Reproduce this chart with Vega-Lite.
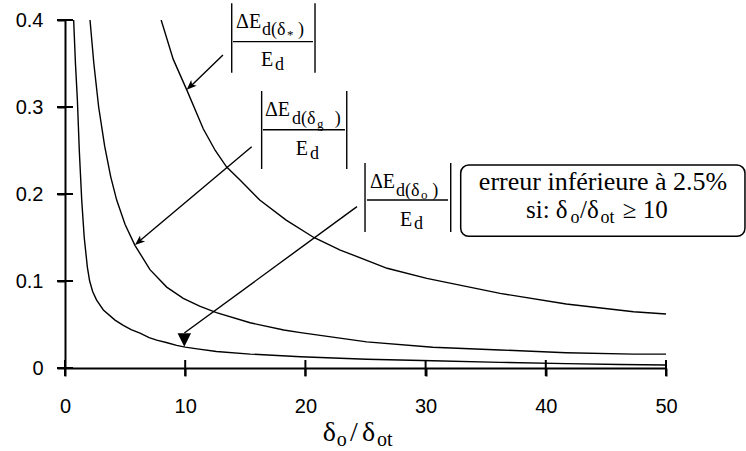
{
  "$schema": "https://vega.github.io/schema/vega-lite/v6.json",
  "width": 601,
  "height": 348,
  "autosize": {"type": "none"},
  "padding": {"left": 65, "top": 20, "right": 80, "bottom": 83},
  "background": "white",
  "config": {"view": {"stroke": null}},
  "datasets": {
    "curves": [
      {"s": "o", "x": 0.72, "y": 0.4}, {"s": "o", "x": 0.87, "y": 0.35}, {"s": "o", "x": 1.03, "y": 0.308}, {"s": "o", "x": 1.19, "y": 0.25},
      {"s": "o", "x": 1.39, "y": 0.193}, {"s": "o", "x": 1.6, "y": 0.15}, {"s": "o", "x": 1.86, "y": 0.116}, {"s": "o", "x": 2.05, "y": 0.1},
      {"s": "o", "x": 2.3, "y": 0.088}, {"s": "o", "x": 2.63, "y": 0.078}, {"s": "o", "x": 3.19, "y": 0.0667}, {"s": "o", "x": 4.16, "y": 0.055},
      {"s": "o", "x": 4.85, "y": 0.049}, {"s": "o", "x": 5.5, "y": 0.044}, {"s": "o", "x": 6.24, "y": 0.04}, {"s": "o", "x": 7.0, "y": 0.035},
      {"s": "o", "x": 7.63, "y": 0.032}, {"s": "o", "x": 8.5, "y": 0.029}, {"s": "o", "x": 9.29, "y": 0.026}, {"s": "o", "x": 10, "y": 0.024},
      {"s": "o", "x": 11, "y": 0.022}, {"s": "o", "x": 12.6, "y": 0.019}, {"s": "o", "x": 15.4, "y": 0.016}, {"s": "o", "x": 19.6, "y": 0.013},
      {"s": "o", "x": 25.1, "y": 0.01}, {"s": "o", "x": 30.6, "y": 0.0084}, {"s": "o", "x": 36.2, "y": 0.0065}, {"s": "o", "x": 41.7, "y": 0.005},
      {"s": "o", "x": 46.2, "y": 0.004}, {"s": "o", "x": 50, "y": 0.0035},
      {"s": "g", "x": 2.08, "y": 0.4}, {"s": "g", "x": 2.4, "y": 0.35}, {"s": "g", "x": 2.8, "y": 0.3}, {"s": "g", "x": 3.3, "y": 0.255},
      {"s": "g", "x": 3.8, "y": 0.22}, {"s": "g", "x": 4.3, "y": 0.193}, {"s": "g", "x": 5.0, "y": 0.165}, {"s": "g", "x": 5.82, "y": 0.141},
      {"s": "g", "x": 7.07, "y": 0.113}, {"s": "g", "x": 8.46, "y": 0.093}, {"s": "g", "x": 9.84, "y": 0.08}, {"s": "g", "x": 11.2, "y": 0.071},
      {"s": "g", "x": 12.6, "y": 0.0636}, {"s": "g", "x": 15.4, "y": 0.052}, {"s": "g", "x": 18.2, "y": 0.0437}, {"s": "g", "x": 19.6, "y": 0.0406},
      {"s": "g", "x": 25.1, "y": 0.03}, {"s": "g", "x": 30.6, "y": 0.0238}, {"s": "g", "x": 36.2, "y": 0.0207}, {"s": "g", "x": 41.7, "y": 0.0176},
      {"s": "g", "x": 47.3, "y": 0.016}, {"s": "g", "x": 50, "y": 0.016},
      {"s": "a", "x": 8, "y": 0.4}, {"s": "a", "x": 9, "y": 0.355}, {"s": "a", "x": 10.12, "y": 0.32}, {"s": "a", "x": 11.5, "y": 0.275},
      {"s": "a", "x": 12.5, "y": 0.25}, {"s": "a", "x": 13.45, "y": 0.231}, {"s": "a", "x": 14.56, "y": 0.216}, {"s": "a", "x": 16.2, "y": 0.193},
      {"s": "a", "x": 18.4, "y": 0.17}, {"s": "a", "x": 20.7, "y": 0.15}, {"s": "a", "x": 22.9, "y": 0.1356}, {"s": "a", "x": 26.8, "y": 0.1146},
      {"s": "a", "x": 30.1, "y": 0.103}, {"s": "a", "x": 36.2, "y": 0.0858}, {"s": "a", "x": 41.7, "y": 0.0736}, {"s": "a", "x": 47.3, "y": 0.0647},
      {"s": "a", "x": 50, "y": 0.062}
    ],
    "yticks": [
      {"x": 0, "y": 0}, {"x": 0, "y": 0.1}, {"x": 0, "y": 0.2}, {"x": 0, "y": 0.3}, {"x": 0, "y": 0.4}
    ],
    "xticks": [
      {"x": 0, "y": 0}, {"x": 10, "y": 0}, {"x": 20, "y": 0}, {"x": 30, "y": 0}, {"x": 40, "y": 0}, {"x": 50, "y": 0}
    ],
    "rules": [
      {"x": 13.87, "y": 0.4192, "x2": 13.87, "y2": 0.3394},
      {"x": 20.80, "y": 0.4192, "x2": 20.80, "y2": 0.3394},
      {"x": 13.98, "y": 0.3751, "x2": 20.63, "y2": 0.3751},
      {"x": 16.36, "y": 0.3184, "x2": 16.36, "y2": 0.2287},
      {"x": 23.44, "y": 0.3184, "x2": 23.44, "y2": 0.2287},
      {"x": 16.47, "y": 0.2739, "x2": 23.29, "y2": 0.2739},
      {"x": 24.96, "y": 0.2356, "x2": 24.96, "y2": 0.1563},
      {"x": 32.09, "y": 0.2356, "x2": 32.09, "y2": 0.1563},
      {"x": 25.12, "y": 0.1931, "x2": 31.86, "y2": 0.1931},
      {"x": 13.14, "y": 0.3598, "x2": 10.5, "y2": 0.3245},
      {"x": 15.53, "y": 0.2544, "x2": 6.2, "y2": 0.1459},
      {"x": 24.29, "y": 0.1855, "x2": 9.925, "y2": 0.0402}
    ],
    "barb1": [{"x": 10.12, "y": 0.3198}],
    "barb2": [{"x": 5.82, "y": 0.1414}],
    "tri": [{"x": 9.925, "y": 0.0245}],
    "box": [{"x": 32.92, "y": 0.2333, "x2": 56.57, "y2": 0.1514}],
    "t20": [
      {"t": "ΔE", "x": 14.23, "y": 0.3904}, {"t": "E", "x": 16.31, "y": 0.3471},
      {"t": "ΔE", "x": 16.64, "y": 0.2893}, {"t": "E", "x": 19.20, "y": 0.2452},
      {"t": "ΔE", "x": 25.37, "y": 0.2066}, {"t": "E", "x": 27.87, "y": 0.1636}
    ],
    "t16": [
      {"t": "d(δ", "x": 16.39, "y": 0.3822}, {"t": ")", "x": 19.38, "y": 0.3822}, {"t": "d", "x": 17.47, "y": 0.3425},
      {"t": "d(δ", "x": 18.89, "y": 0.2805}, {"t": ")", "x": 22.45, "y": 0.2805}, {"t": "d", "x": 20.38, "y": 0.2408},
      {"t": "d(δ", "x": 27.54, "y": 0.1977}, {"t": ")", "x": 30.55, "y": 0.1977}, {"t": "d", "x": 29.03, "y": 0.1592}
    ],
    "t12": [
      {"t": "*", "x": 18.47, "y": 0.3782}, {"t": "g", "x": 20.96, "y": 0.2753}, {"t": "o", "x": 29.62, "y": 0.1943}
    ],
    "note1": [{"t": "erreur inférieure à 2.5%", "x": 44.76, "y": 0.2046}],
    "note24": [
      {"t": "si: δ", "x": 38.35, "y": 0.1724}, {"t": "/δ", "x": 42.85, "y": 0.1724}, {"t": "≥ 10", "x": 46.4, "y": 0.1724}
    ],
    "note17": [
      {"t": "o", "x": 42.05, "y": 0.1667}, {"t": "ot", "x": 44.55, "y": 0.1667}
    ],
    "title26": [
      {"t": "δ", "x": 21.44, "y": -0.0839}, {"t": "/", "x": 23.71, "y": -0.0839}, {"t": "δ", "x": 24.71, "y": -0.0839}
    ],
    "title18": [
      {"t": "o", "x": 22.60, "y": -0.0897}, {"t": "ot", "x": 25.96, "y": -0.0897}
    ]
  },
  "encoding": {
    "x": {
      "field": "x", "type": "quantitative",
      "scale": {"domain": [0, 50], "nice": false, "zero": false},
      "axis": {
        "values": [0, 10, 20, 30, 40, 50], "title": null, "grid": false, "labelFlush": false,
        "domain": true, "domainColor": "black", "domainWidth": 2,
        "tickSize": 8, "tickWidth": 2, "tickColor": "black",
        "labelFont": "Liberation Sans", "labelFontSize": 20, "labelColor": "black", "labelPadding": 20
      }
    },
    "y": {
      "field": "y", "type": "quantitative",
      "scale": {"domain": [0, 0.4], "nice": false, "zero": false},
      "axis": {
        "values": [0, 0.1, 0.2, 0.3, 0.4], "format": "~g", "title": null, "grid": false, "labelFlush": false,
        "domain": true, "domainColor": "black", "domainWidth": 2,
        "tickSize": 8, "tickWidth": 2, "tickColor": "black",
        "labelFont": "Liberation Sans", "labelFontSize": 20, "labelColor": "black", "labelPadding": 14
      }
    }
  },
  "layer": [
    {
      "data": {"name": "curves"},
      "mark": {"type": "line", "color": "black", "strokeWidth": 1.4, "clip": true},
      "encoding": {"detail": {"field": "s"}}
    },
    {
      "data": {"name": "yticks"},
      "mark": {"type": "tick", "orient": "horizontal", "color": "black", "size": 16, "thickness": 2, "opacity": 1},
      "encoding": {}
    },
    {
      "data": {"name": "xticks"},
      "mark": {"type": "tick", "orient": "vertical", "color": "black", "size": 16, "thickness": 2, "opacity": 1},
      "encoding": {}
    },
    {
      "data": {"name": "rules"},
      "mark": {"type": "rule", "color": "black", "strokeWidth": 1.4},
      "encoding": {"x2": {"field": "x2"}, "y2": {"field": "y2"}}
    },
    {
      "data": {"name": "barb1"},
      "mark": {"type": "point", "shape": "M0,0 L0.4,1 L0,0.75 L-0.4,1 Z", "filled": true, "color": "black", "opacity": 1, "size": 400, "angle": 226.6},
      "encoding": {}
    },
    {
      "data": {"name": "barb2"},
      "mark": {"type": "point", "shape": "M0,0 L0.4,1 L0,0.75 L-0.4,1 Z", "filled": true, "color": "black", "opacity": 1, "size": 400, "angle": 229.9},
      "encoding": {}
    },
    {
      "data": {"name": "tri"},
      "mark": {"type": "point", "shape": "M-0.5,-1 L0.5,-1 L0,0 Z", "filled": true, "color": "black", "opacity": 1, "size": 729},
      "encoding": {}
    },
    {
      "data": {"name": "box"},
      "mark": {"type": "rect", "cornerRadius": 8, "fill": "white", "stroke": "black", "strokeWidth": 1.5},
      "encoding": {"x2": {"field": "x2"}, "y2": {"field": "y2"}}
    },
    {
      "data": {"name": "t20"},
      "mark": {"type": "text", "font": "Liberation Serif", "fontSize": 20, "align": "left", "baseline": "alphabetic", "color": "black"},
      "encoding": {"text": {"field": "t"}}
    },
    {
      "data": {"name": "t16"},
      "mark": {"type": "text", "font": "Liberation Serif", "fontSize": 18, "align": "left", "baseline": "alphabetic", "color": "black"},
      "encoding": {"text": {"field": "t"}}
    },
    {
      "data": {"name": "t12"},
      "mark": {"type": "text", "font": "Liberation Serif", "fontSize": 13, "align": "left", "baseline": "alphabetic", "color": "black"},
      "encoding": {"text": {"field": "t"}}
    },
    {
      "data": {"name": "note1"},
      "mark": {"type": "text", "font": "Liberation Serif", "fontSize": 26, "align": "center", "baseline": "alphabetic", "color": "black"},
      "encoding": {"text": {"field": "t"}}
    },
    {
      "data": {"name": "note24"},
      "mark": {"type": "text", "font": "Liberation Serif", "fontSize": 25, "align": "left", "baseline": "alphabetic", "color": "black"},
      "encoding": {"text": {"field": "t"}}
    },
    {
      "data": {"name": "note17"},
      "mark": {"type": "text", "font": "Liberation Serif", "fontSize": 18, "align": "left", "baseline": "alphabetic", "color": "black"},
      "encoding": {"text": {"field": "t"}}
    },
    {
      "data": {"name": "title26"},
      "mark": {"type": "text", "font": "Liberation Serif", "fontSize": 28, "align": "left", "baseline": "alphabetic", "color": "black"},
      "encoding": {"text": {"field": "t"}}
    },
    {
      "data": {"name": "title18"},
      "mark": {"type": "text", "font": "Liberation Serif", "fontSize": 20, "align": "left", "baseline": "alphabetic", "color": "black"},
      "encoding": {"text": {"field": "t"}}
    }
  ]
}
